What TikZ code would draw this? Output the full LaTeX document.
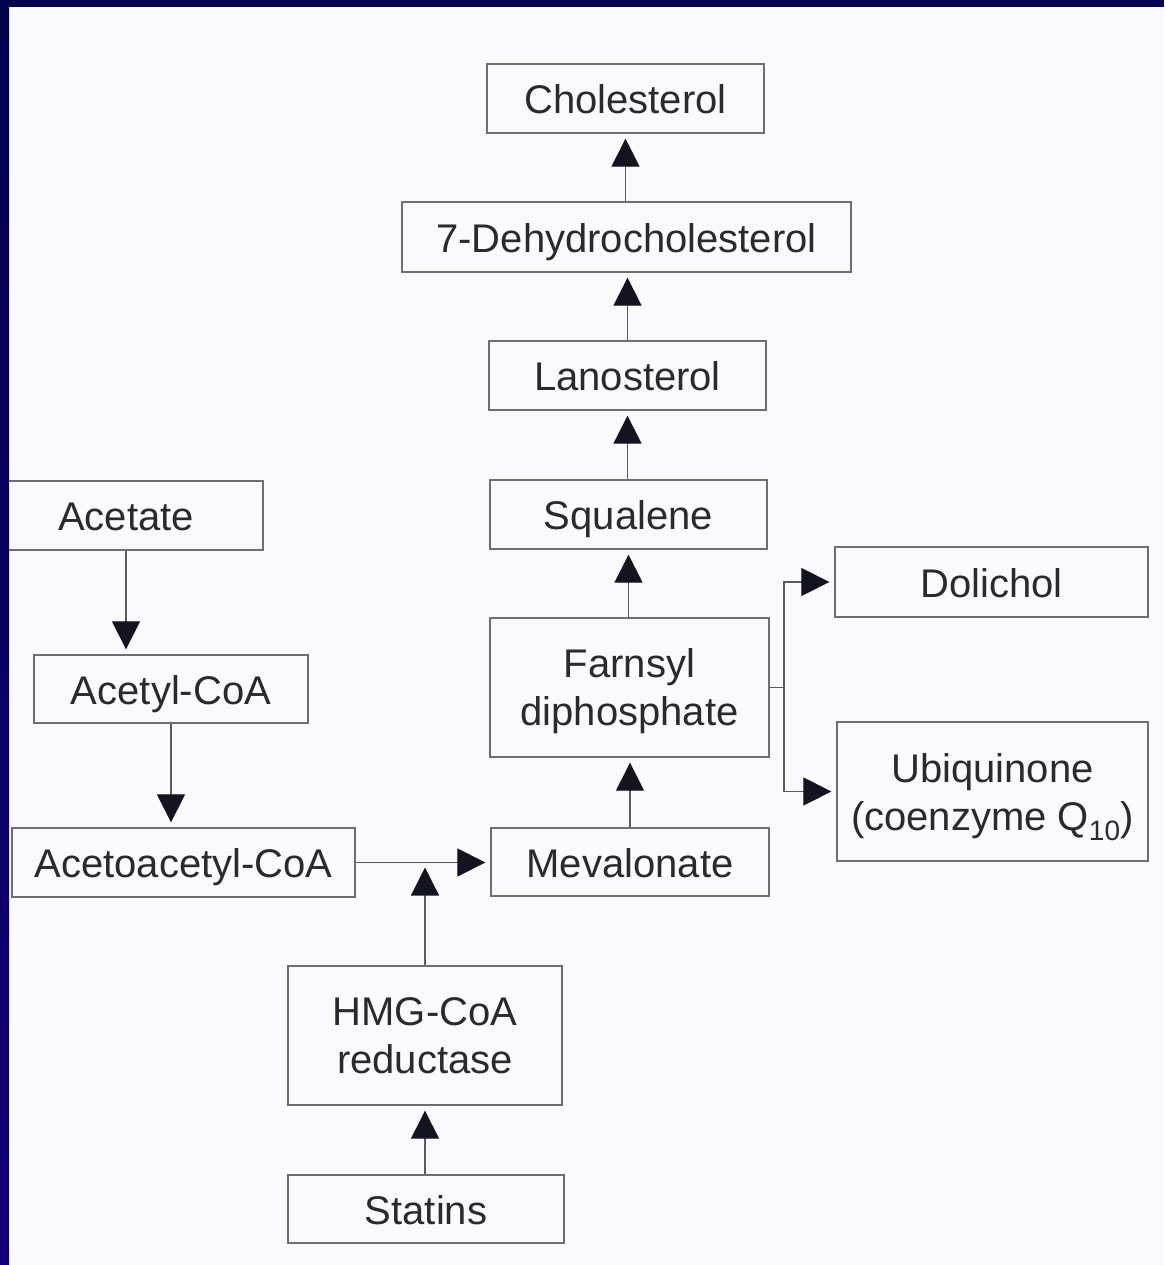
\documentclass[tikz,border=0pt]{standalone}
\usepackage{fontspec}
\setmainfont{Liberation Sans}
\usetikzlibrary{arrows.meta}
\definecolor{bgc}{HTML}{F9F9FE}
\definecolor{navy}{HTML}{00004C}
\definecolor{navyb}{HTML}{12007C}
\definecolor{txt}{HTML}{2A2A2E}
\definecolor{boxc}{HTML}{6E6E72}
\definecolor{linec}{HTML}{5A5A60}
\definecolor{tipc}{HTML}{141420}
\tikzset{
  box/.style={draw=boxc, line width=1.3pt, rectangle, inner sep=0pt, text=txt,
    align=center, font=\fontsize{40}{48}\selectfont},
  onebox/.style={box, text height=38pt, text depth=8pt},
  twobox/.style={box, text depth=0pt},
  arr/.style={draw=linec, line width=1.2pt,
    -{Triangle[length=28pt,width=28pt,color=tipc]}, shorten >=5pt},
  plain/.style={draw=linec, line width=1.2pt}
}
\begin{document}
\begin{tikzpicture}[x=1pt,y=-1pt]
\useasboundingbox (0,0) rectangle (1164,1265);
\fill[bgc] (0,0) rectangle (1164,1265);
% nodes
\node[onebox, minimum width=277pt, minimum height=69pt] (chol) at (625.5,98.5) {Cholesterol};
\node[onebox, minimum width=449pt, minimum height=70pt] (dehy) at (626.5,237) {7-Dehydrocholesterol};
\node[onebox, minimum width=277pt, minimum height=69pt] (lano) at (627.5,375.5) {Lanosterol};
\node[onebox, minimum width=277pt, minimum height=69pt] (squa) at (628.5,514.5) {Squalene};
\node[twobox, minimum width=279pt, minimum height=139pt] (farn) at (629.5,687.5) {Farnsyl\\diphosphate};
\node[onebox, minimum width=278pt, minimum height=68pt] (meva) at (630,862) {Mevalonate};
\node[onebox, minimum width=313pt, minimum height=70pt] (doli) at (991.5,582) {Dolichol};
\node[twobox, minimum width=311pt, minimum height=139pt] (ubiq) at (992.5,791.5) {Ubiquinone\\(coenzyme Q\textsubscript{10})};
\node[onebox, minimum width=274pt, minimum height=69pt] (acet) at (126,515.5) {Acetate};
\node[onebox, minimum width=274pt, minimum height=68pt] (acyl) at (171,689) {Acetyl-CoA};
\node[onebox, minimum width=343pt, minimum height=69pt] (acac) at (183.5,862.5) {Acetoacetyl-CoA};
\node[twobox, minimum width=274pt, minimum height=139pt] (hmg) at (425,1035.5) {HMG-CoA\\reductase};
\node[onebox, minimum width=276pt, minimum height=68pt] (stat) at (426,1209) {Statins};
% connectors
\draw[arr] (dehy.north -| chol.south) -- (chol.south);
\draw[arr] (lano.north) -- (lano.north |- dehy.south);
\draw[arr] (squa.north -| lano.south) -- (lano.south);
\draw[arr] (farn.north -| squa.south) -- (squa.south);
\draw[arr] (meva.north) -- (meva.north |- farn.south);
\draw[arr] (acet.south) -- (acet.south |- acyl.north);
\draw[arr] (acyl.south) -- (acyl.south |- acac.north);
\draw[arr] (acac.east) -- (acac.east -| meva.west);
\coordinate (hj) at (hmg.north |- acac.east);
\draw[arr] (hmg.north) -- (hj);
\draw[arr] (stat.north -| hmg.south) -- (hmg.south);
\coordinate (br) at (784,687.5);
\draw[plain] (farn.east) -- (br);
\draw[arr] (br) |- (doli.west);
\draw[arr] (br) |- (ubiq.west);
% frame
\fill[navy] (0,0) rectangle (1164,7);
\shade[top color=navy, bottom color=navyb] (0,0) rectangle (9,1265);
\end{tikzpicture}
\end{document}
